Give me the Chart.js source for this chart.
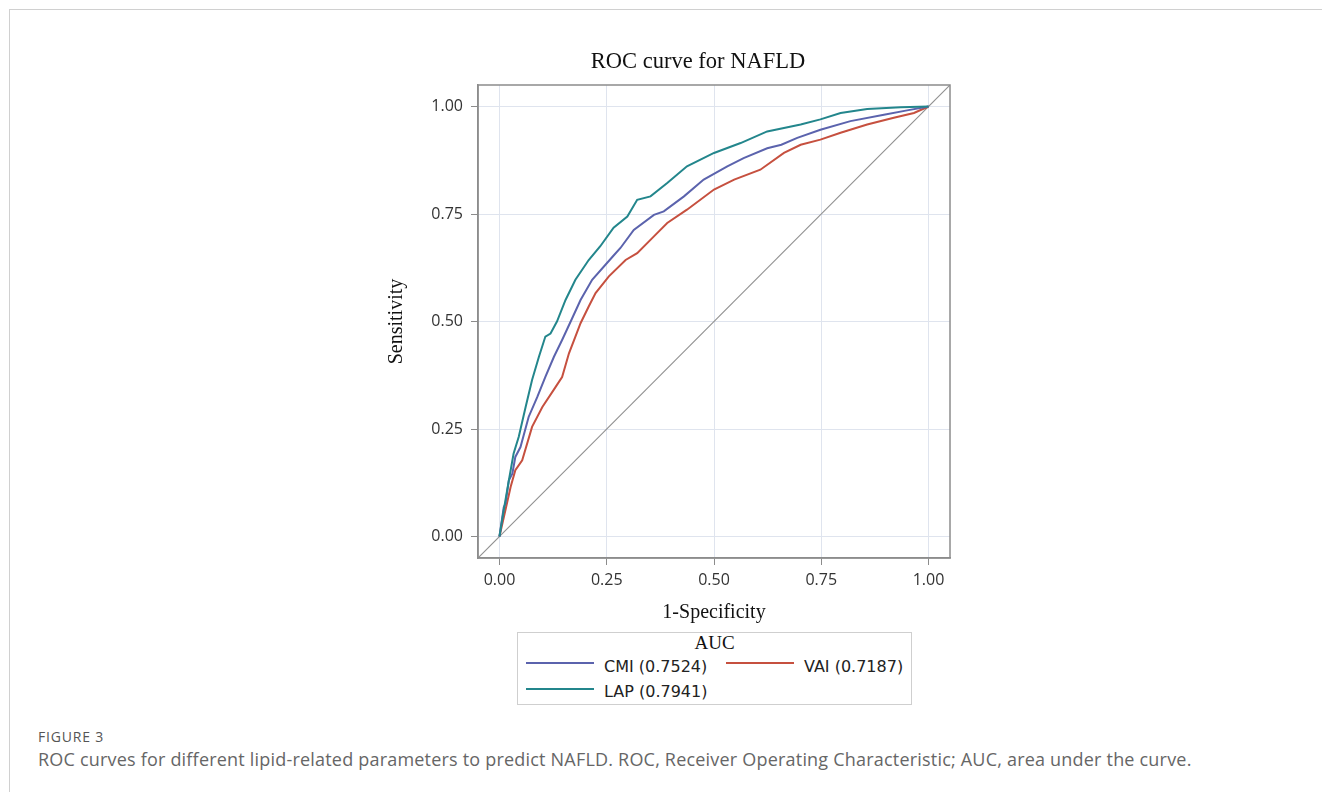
<!DOCTYPE html>
<html>
<head>
<meta charset="utf-8">
<script src="https://cdn.jsdelivr.net/npm/chart.js@4.4.1/dist/chart.umd.min.js"></script>
<style>
html,body{margin:0;padding:0;background:#fff;width:1322px;height:792px;overflow:hidden;}
#frame{position:absolute;left:9px;top:9px;width:1400px;height:900px;border-top:1px solid #d0d0d0;border-left:1px solid #d0d0d0;}
#wrap{position:absolute;left:380px;top:40px;width:600px;height:590px;}
#title{position:absolute;left:498px;width:400px;top:47px;text-align:center;font-family:'Liberation Serif';font-size:22.5px;line-height:27px;color:#111;}
#legend{position:absolute;left:517px;top:632px;width:393px;height:71px;border:1px solid #cfcfcf;background:#fff;}
#legend .ttl{position:absolute;left:0;width:100%;top:0;text-align:center;font-family:'Liberation Serif';font-size:19px;line-height:22px;color:#111;}
#legend .ln{position:absolute;height:2px;width:68px;}
#legend .tx{position:absolute;font-family:'DejaVu Sans';font-size:16px;line-height:20px;color:#222;white-space:pre;}
#figlabel{position:absolute;left:38px;top:728px;font-family:'Open Sans';font-size:14px;line-height:18px;letter-spacing:0.8px;color:#555;}
#caption{position:absolute;left:38px;top:748px;font-family:'Open Sans';font-size:18px;line-height:23px;letter-spacing:0.2px;color:#666;white-space:nowrap;}
</style>
</head>
<body>
<div id="frame"></div>
<div id="wrap"><canvas id="c" width="600" height="590"></canvas></div>
<div id="title"></div>
<div id="legend"></div>
<div id="figlabel">FIGURE 3</div>
<div id="caption">ROC curves for different lipid-related parameters to predict NAFLD. ROC, Receiver Operating Characteristic; AUC, area under the curve.</div>
<script>
// ---- data ----
const TITLE = 'ROC curve for NAFLD';
const X_TITLE = '1-Specificity';
const Y_TITLE = 'Sensitivity';
const LEGEND_TITLE = 'AUC';
const AXIS_TICKS = [0, 0.25, 0.5, 0.75, 1];

const SERIES_NAMES = ['CMI', 'VAI', 'LAP'];
const SERIES_AUC = ['0.7524', '0.7187', '0.7941'];

const CMI_FPR = [0, 0.010, 0.014, 0.022, 0.030, 0.037, 0.049, 0.068, 0.088, 0.107, 0.127, 0.146, 0.166, 0.189, 0.216, 0.263, 0.282, 0.313, 0.360, 0.383, 0.430, 0.476, 0.531, 0.569, 0.624, 0.657, 0.694, 0.748, 0.818, 0.896, 0.950, 1.0];
const CMI_TPR = [0, 0.068, 0.076, 0.131, 0.146, 0.185, 0.208, 0.278, 0.324, 0.371, 0.418, 0.457, 0.500, 0.550, 0.597, 0.650, 0.671, 0.713, 0.748, 0.756, 0.791, 0.830, 0.861, 0.880, 0.903, 0.911, 0.927, 0.946, 0.966, 0.981, 0.991, 1.0];

const VAI_FPR = [0, 0.012, 0.026, 0.037, 0.053, 0.076, 0.100, 0.131, 0.146, 0.162, 0.177, 0.189, 0.208, 0.224, 0.255, 0.294, 0.321, 0.360, 0.391, 0.437, 0.500, 0.547, 0.608, 0.663, 0.702, 0.748, 0.795, 0.857, 0.919, 0.966, 1.0];
const VAI_TPR = [0, 0.053, 0.115, 0.154, 0.177, 0.255, 0.301, 0.348, 0.371, 0.426, 0.465, 0.496, 0.535, 0.566, 0.605, 0.643, 0.659, 0.698, 0.729, 0.760, 0.807, 0.830, 0.853, 0.892, 0.911, 0.923, 0.939, 0.958, 0.974, 0.985, 1.0];

const LAP_FPR = [0, 0.006, 0.010, 0.022, 0.033, 0.045, 0.061, 0.076, 0.092, 0.107, 0.119, 0.134, 0.154, 0.177, 0.208, 0.235, 0.266, 0.298, 0.321, 0.352, 0.391, 0.437, 0.500, 0.562, 0.624, 0.702, 0.748, 0.795, 0.857, 0.935, 1.0];
const LAP_TPR = [0, 0.037, 0.061, 0.131, 0.193, 0.232, 0.301, 0.364, 0.418, 0.465, 0.472, 0.500, 0.550, 0.597, 0.643, 0.675, 0.718, 0.744, 0.783, 0.791, 0.822, 0.861, 0.892, 0.915, 0.942, 0.958, 0.970, 0.985, 0.994, 0.998, 1.0];

const DIAG_X = [-0.05, 1.05];
const DIAG_Y = [-0.05, 1.05];

// ---- styles ----
const COLORS = {CMI: '#5b63ad', VAI: '#c6503f', LAP: '#23868c'};
const pts = (xs, ys) => xs.map((x, i) => ({x: x, y: ys[i]}));

const framePlugin = {
  id: 'frame',
  afterDraw(chart) {
    const {ctx, chartArea: a} = chart;
    ctx.save();
    ctx.strokeStyle = '#8c8c8c';
    ctx.lineWidth = 1.5;
    ctx.strokeRect(a.left, a.top, a.right - a.left, a.bottom - a.top);
    ctx.restore();
  }
};

const line = (label, data, color, w) => ({
  label, data, borderColor: color, backgroundColor: color, showLine: true,
  pointRadius: 0, borderWidth: w, tension: 0, fill: false
});

const tickFont = {family: 'Open Sans', size: 16};
const titleFont = {family: 'Liberation Serif', size: 20, weight: 'normal'};

document.getElementById('title').textContent = TITLE;

new Chart(document.getElementById('c'), {
  type: 'scatter',
  data: {
    datasets: [
      line('LAP', pts(LAP_FPR, LAP_TPR), COLORS.LAP, 2),
      line('CMI', pts(CMI_FPR, CMI_TPR), COLORS.CMI, 2),
      line('VAI', pts(VAI_FPR, VAI_TPR), COLORS.VAI, 2),
      line('ref', pts(DIAG_X, DIAG_Y), '#8f8f8f', 1.1)
    ]
  },
  options: {
    responsive: false, animation: false, maintainAspectRatio: false,
    layout: {padding: {left: 0, right: 30, top: 45, bottom: 0}},
    plugins: {
      legend: {display: false},
      tooltip: {enabled: false},
      title: {display: false}
    },
    scales: {
      x: {
        type: 'linear', min: -0.05, max: 1.05,
        afterBuildTicks: s => { s.ticks = AXIS_TICKS.map(v => ({value: v})); },
        afterFit: s => { s.height = 72; },
        ticks: {callback: v => Number(v).toFixed(2), font: tickFont, color: '#333', padding: 6, maxRotation: 0, autoSkip: false},
        grid: {color: '#dfe4ee', tickColor: '#8c8c8c', tickLength: 7, lineWidth: 1},
        border: {display: true, color: '#8c8c8c', width: 1.5},
        title: {display: true, text: X_TITLE, font: titleFont, color: '#111', padding: {top: 0, bottom: 5}}
      },
      y: {
        type: 'linear', min: -0.05, max: 1.05,
        afterBuildTicks: s => { s.ticks = AXIS_TICKS.map(v => ({value: v})); },
        afterFit: s => { s.width = 98; },
        ticks: {callback: v => Number(v).toFixed(2), font: tickFont, color: '#333', padding: 8, autoSkip: false},
        grid: {color: '#dfe4ee', tickColor: '#8c8c8c', tickLength: 7, lineWidth: 1},
        border: {display: true, color: '#8c8c8c', width: 1.5},
        title: {display: true, text: Y_TITLE, font: titleFont, color: '#111', padding: {top: 5, bottom: 0}}
      }
    }
  },
  plugins: [framePlugin]
});

// ---- legend (HTML) ----
const lg = document.getElementById('legend');
const t = document.createElement('div');
t.className = 'ttl'; t.style.top = '-1px'; t.textContent = LEGEND_TITLE;
lg.appendChild(t);
const SLOTS = [{lx: 8, tx: 86, ly: 29, ty: 24}, {lx: 208, tx: 286, ly: 29, ty: 24}, {lx: 8, tx: 86, ly: 55, ty: 49}];
SERIES_NAMES.forEach((n, i) => {
  const s = SLOTS[i];
  const l = document.createElement('div');
  l.className = 'ln'; l.style.left = s.lx + 'px'; l.style.top = s.ly + 'px'; l.style.backgroundColor = COLORS[n];
  const x = document.createElement('div');
  x.className = 'tx'; x.style.left = s.tx + 'px'; x.style.top = s.ty + 'px';
  x.textContent = n + ' (' + SERIES_AUC[i] + ')';
  lg.appendChild(l); lg.appendChild(x);
});
</script>
</body>
</html>
